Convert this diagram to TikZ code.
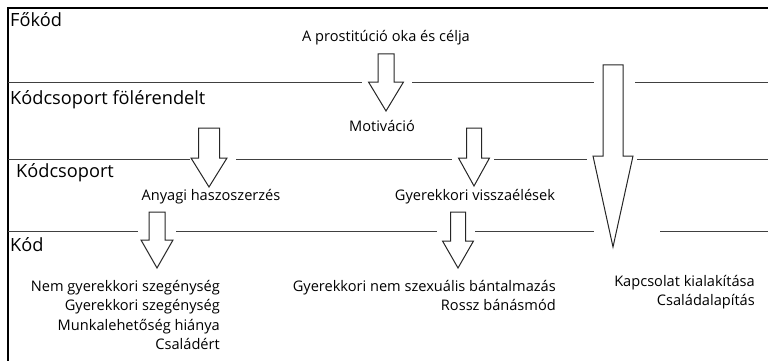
\documentclass[tikz,border=0pt]{standalone}
\usepackage{fontspec}
\setmainfont{Open Sans}
\usepackage{tikz}
\usetikzlibrary{positioning}

\tikzset{
  level/.style={anchor=north west,inner sep=0pt,font=\fontsize{18.2}{21}\selectfont},
  code/.style={inner sep=0pt,font=\fontsize{14.6}{19.5}\selectfont},
  sep/.style={line width=1pt,black!75},
  arrowbox/.style={line width=1pt,black!85,fill=white,line join=miter}
}
% hollow down arrow: centre x, top, head start, tip, half shaft, half head
\newcommand{\hollowarrow}[6]{%
  \draw[arrowbox] (#1-#5,#2) -- (#1+#5,#2) -- (#1+#5,#3) -- (#1+#6,#3)
    -- (#1,#4) -- (#1-#6,#3) -- (#1-#5,#3) -- cycle;}

\begin{document}
\begin{tikzpicture}[x=1pt,y=-1pt]
\useasboundingbox (0,0) rectangle (768,361);
\draw[line width=1.3pt] (768,8) -- (8,8) -- (8,361);

% level names
\node[level] (fokod) at (10,12) {Főkód};
\node[level] (folerendelt) at (10,90) {Kódcsoport fölérendelt};
\node[level] (csoport) at (16,163) {Kódcsoport};
\node[level] (kod) at (10,237) {Kód};

% separators
\draw[sep] (8,82) -- (362,82);
\draw[sep] (412,82) -- (594,82);
\draw[sep] (635,82) -- (768,82);
\draw[sep] (8,159) -- (190,159);
\draw[sep] (236,159) -- (452,159);
\draw[sep] (494,159) -- (587,159);
\draw[sep] (637,159) -- (768,159);
\draw[sep] (8,231) -- (138,231);
\draw[sep] (176,231) -- (437,231);
\draw[sep] (475,231) -- (594,231);
\draw[sep] (660,231) -- (768,231);

% codes
\node[code] (okcel) at (386,38) {A prostitúció oka és célja};
\node[code] (motiv) at (382,126) {Motiváció};
\node[code] (anyagi) at (211,197) {Anyagi haszoszerzés};
\node[code] (visszael) at (475,197) {Gyerekkori visszaélések};
\node[code,align=right,anchor=north east] (szegeny) at (220,280)
  {Nem gyerekkori szegénység\\Gyerekkori szegénység\\Munkalehetőség hiánya\\Családért};
\node[code,align=right,anchor=north east] (bantalom) at (556,280)
  {Gyerekkori nem szexuális bántalmazás\\Rossz bánásmód};
\node[code,align=right,anchor=north east] (kapcsolat) at (755,275)
  {Kapcsolat kialakítása\\Családalapítás};

% arrows
\hollowarrow{386}{54}{82}{111}{8}{17.5}
\hollowarrow{209}{128}{158}{187}{10.5}{18}
\hollowarrow{474}{128}{158}{186}{7.5}{15.5}
\hollowarrow{157}{212}{240}{268}{8}{16}
\hollowarrow{458}{212}{241}{268}{7.5}{15.5}
\hollowarrow{613}{65}{156}{247}{10}{20}
\end{tikzpicture}
\end{document}
